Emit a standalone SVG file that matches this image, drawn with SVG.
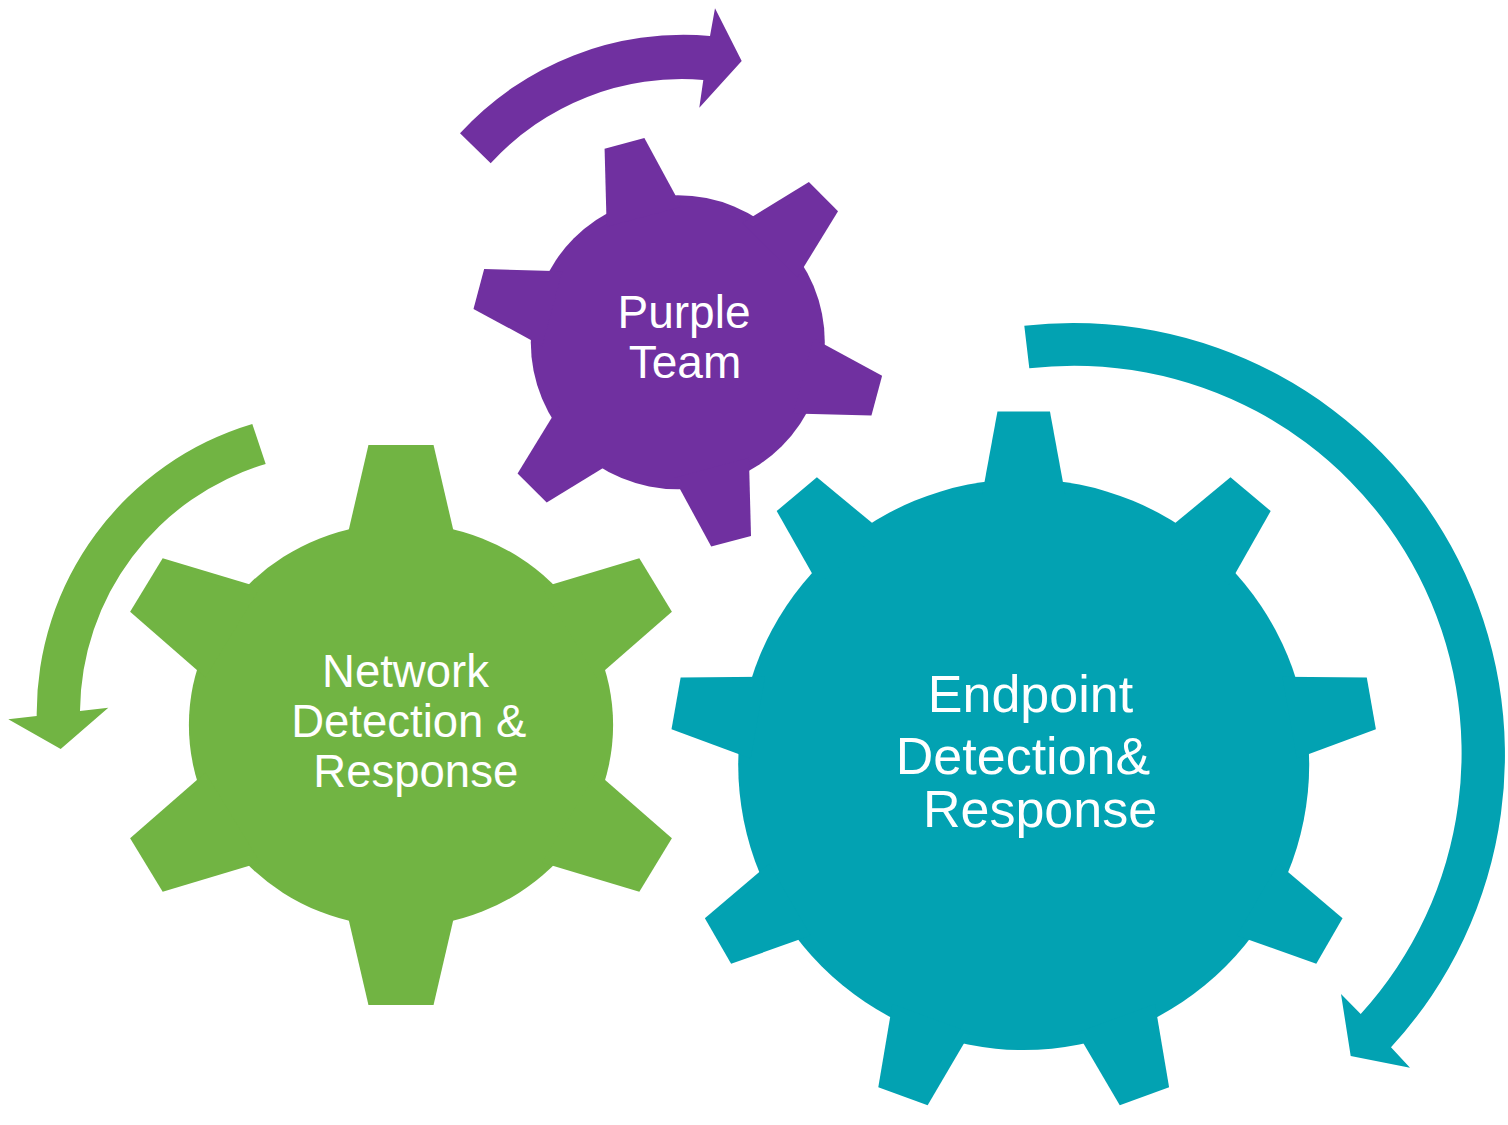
<svg xmlns="http://www.w3.org/2000/svg" width="1508" height="1125" viewBox="0 0 1508 1125">
<style>
.green{fill:#71B443}
.purple{fill:#7030A0}
.teal{fill:#02A2B2}
.lbl{fill:#FFFFFF;font-family:"Liberation Sans",Arial,sans-serif;text-anchor:middle}
</style>
<defs>
<polygon id="toothG" points="-52,-185 -31,-280 31,-280 52,-185"/>
<polygon id="toothP" points="-38.8,-130 -20.6,-206 20.6,-206 38.8,-130"/>
<polygon id="toothT" points="-41.5,-270 -26.25,-353 26.25,-353 41.5,-270"/>
</defs>
<rect width="1508" height="1125" fill="#FFFFFF"/>
<g id="connectors">
<path id="arrow-purple" class="purple" d="M460,133.3 A302.8,302.8 0 0 1 710,36 L715,8.3 L741.7,61 L699.3,107.7 L703.3,80 A259,259 0 0 0 490.7,163.3 Z"/>
<path id="arrow-green" class="green" d="M252.3,424 A302,302 0 0 0 36.7,716 L8.3,719.3 L60.7,749 L108.3,707.7 L80,711 A260,260 0 0 1 265.7,464 Z"/>
<path id="arrow-teal" class="teal" d="M1024.3,325.7 A432,432 0 0 1 1391,1047.3 L1410,1067.7 L1350.7,1056 L1341,994 L1360.7,1014 A387.5,387.5 0 0 0 1029.3,368.3 Z"/>
</g>
<g id="gear-network">
<g class="green" transform="translate(401,725) scale(1.05,1)">
<circle r="202"/>
<use href="#toothG"/>
<use href="#toothG" transform="rotate(60)"/>
<use href="#toothG" transform="rotate(120)"/>
<use href="#toothG" transform="rotate(180)"/>
<use href="#toothG" transform="rotate(240)"/>
<use href="#toothG" transform="rotate(300)"/>
</g>
<text class="lbl" font-size="45.5" x="405.5" y="687">Network</text>
<text class="lbl" font-size="45.5" x="408.8" y="737">Detection &amp;</text>
<text class="lbl" font-size="45.5" x="415.8" y="787">Response</text>
</g>
<g id="gear-purple">
<g class="purple" transform="translate(677.8,342.3)">
<circle r="147"/>
<use href="#toothP" transform="rotate(-15)"/>
<use href="#toothP" transform="rotate(45)"/>
<use href="#toothP" transform="rotate(105)"/>
<use href="#toothP" transform="rotate(165)"/>
<use href="#toothP" transform="rotate(225)"/>
<use href="#toothP" transform="rotate(285)"/>
</g>
<text class="lbl" font-size="46" x="684" y="328">Purple</text>
<text class="lbl" font-size="46" x="685" y="378">Team</text>
</g>
<g id="gear-endpoint">
<g class="teal" transform="translate(1023.7,764.6)">
<circle r="285.5"/>
<use href="#toothT"/>
<use href="#toothT" transform="rotate(40)"/>
<use href="#toothT" transform="rotate(80)"/>
<use href="#toothT" transform="rotate(120)"/>
<use href="#toothT" transform="rotate(160)"/>
<use href="#toothT" transform="rotate(200)"/>
<use href="#toothT" transform="rotate(240)"/>
<use href="#toothT" transform="rotate(280)"/>
<use href="#toothT" transform="rotate(320)"/>
</g>
<text class="lbl" font-size="52" x="1030.5" y="712">Endpoint</text>
<text class="lbl" font-size="52" x="1023" y="773.5">Detection&amp;</text>
<text class="lbl" font-size="52" x="1040" y="827">Response</text>
</g>
</svg>
